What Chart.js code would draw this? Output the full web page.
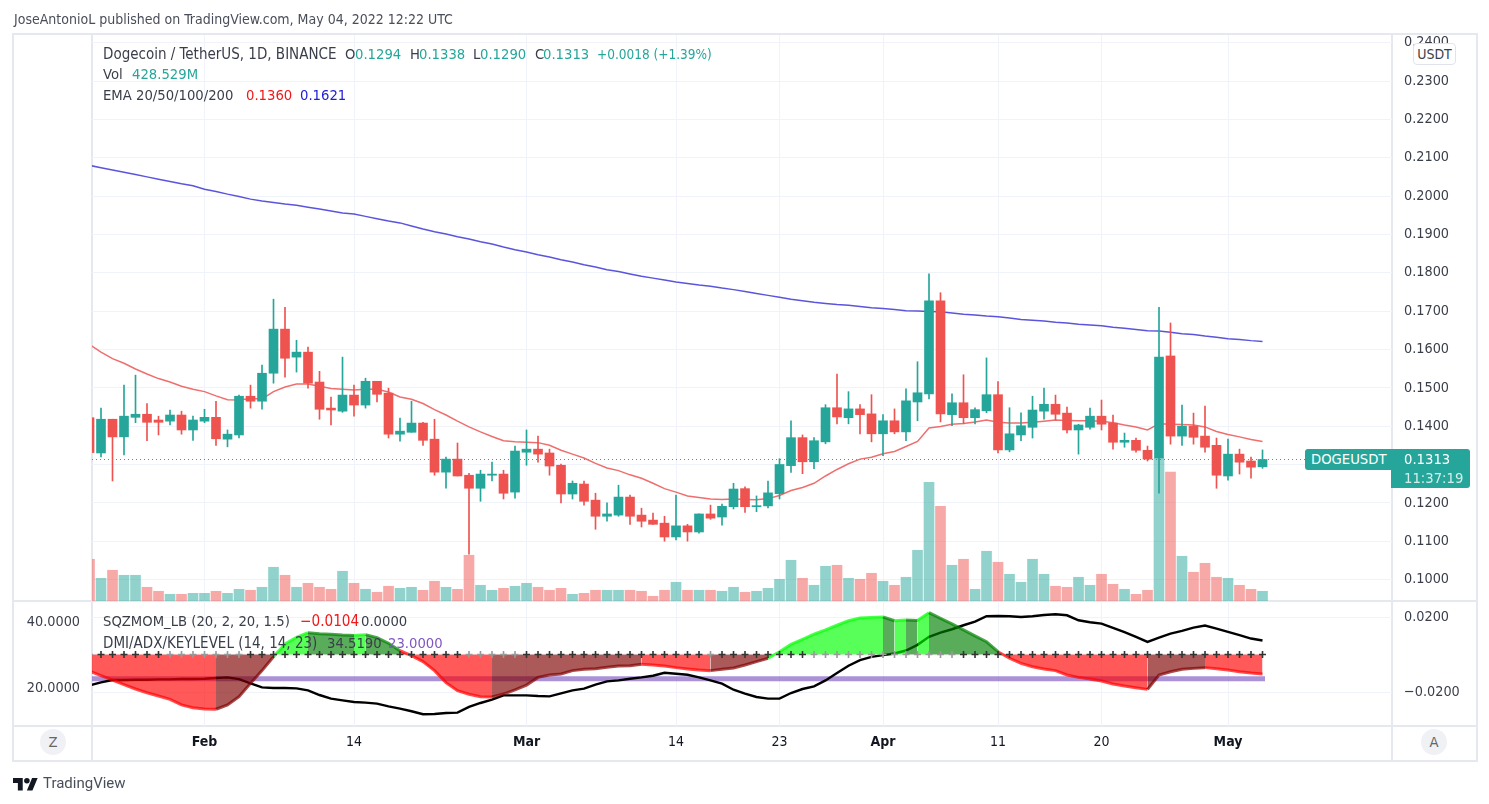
<!DOCTYPE html>
<html>
<head>
<meta charset="utf-8">
<title>DOGEUSDT</title>
<script src="https://cdn.jsdelivr.net/npm/chart.js@4"></script>
<style>
  html, body { margin: 0; padding: 0; background: #fff; width: 1489px; height: 804px; overflow: hidden; }
  body { position: relative; font-family: "DejaVu Sans Condensed", "DejaVu Sans", sans-serif; font-size: 14.7px; color: #3a3e4a; }
  canvas { position: absolute; left: 0; top: 0; }
  .line { position: absolute; background: #e6e8ef; }
  .t { position: absolute; white-space: nowrap; line-height: 16px; z-index: 4; }
</style>
</head>
<body>
<div class="line" style="left:12px;top:33px;width:1466px;height:2px"></div>
<div class="line" style="left:12px;top:760px;width:1466px;height:2px"></div>
<div class="line" style="left:12px;top:33px;width:2px;height:729px"></div>
<div class="line" style="left:1476px;top:33px;width:2px;height:729px"></div>
<div class="line" style="left:91px;top:35px;width:2px;height:725px"></div>
<div class="line" style="left:1391px;top:35px;width:2px;height:725px"></div>
<div class="line" style="left:12px;top:600px;width:1466px;height:2px"></div>
<div class="line" style="left:12px;top:725px;width:1466px;height:2px"></div>
<canvas id="main" width="1489" height="804"></canvas>
<canvas id="lower" width="1489" height="804"></canvas>
<div id="labels"></div>
<div style="position:absolute;left:1413px;top:43px;width:41px;height:20px;background:#fff;border:1px solid #e0e3eb;border-radius:4px;text-align:center;line-height:20px;font-size:14px;z-index:3">USDT</div>
<div style="position:absolute;left:1305px;top:449px;width:87px;height:21px;background:#26a69a;border-radius:3px 0 0 3px;z-index:3"></div>
<div style="position:absolute;left:1391px;top:449px;width:79px;height:39px;background:#26a69a;border-radius:0 3px 3px 0;z-index:3"></div>
<div style="position:absolute;left:40px;top:729px;width:26px;height:26px;border-radius:13px;background:#f0f1f5;color:#666;text-align:center;line-height:26px;z-index:3">Z</div>
<div style="position:absolute;left:1421px;top:729px;width:26px;height:26px;border-radius:13px;background:#f0f1f5;color:#666;text-align:center;line-height:26px;z-index:3">A</div>
<svg style="position:absolute;left:13px;top:775px" width="25" height="20" viewBox="0 0 36 28"><path fill="#131722" d="M14 22H7V11H0V4h14v18zM28 22h-8l7.5-18h8L28 22z"/><circle fill="#131722" cx="20" cy="8" r="4"/></svg>
<script>
// prices, one entry per daily candle starting 22 Jan
const opens = [.1422,.1330,.1418,.1372,.1423,.1431,.1416,.1413,.1429,.1390,.1413,.1423,.1366,.1377,.1478,.1465,.1538,.1653,.1580,.1593,.1515,.1447,.1439,.1481,.1455,.1517,.1486,.1379,.1384,.1408,.1366,.1280,.1314,.1272,.1238,.1272,.1275,.1228,.1332,.1340,.1330,.1298,.1223,.1249,.1207,.1165,.1168,.1215,.1168,.1155,.1147,.1111,.1140,.1124,.1171,.1163,.1190,.1237,.1190,.1192,.1224,.1297,.1370,.1307,.1359,.1448,.1422,.1445,.1432,.1380,.1414,.1385,.1463,.1484,.1727,.1430,.1461,.1422,.1440,.1482,.1338,.1377,.1397,.1439,.1457,.1434,.1390,.1397,.1426,.1408,.1358,.1363,.1337,.1317,.1583,.1374,.1400,.1374,.1350,.1270,.1327,.1309,.1294];
const highs = [.1440,.1447,.1418,.1507,.1533,.1459,.1426,.1442,.1439,.1426,.1444,.1465,.1390,.1481,.1507,.1559,.1731,.1710,.1624,.1606,.1543,.1476,.1580,.1507,.1525,.1517,.1499,.1421,.1465,.1410,.1418,.1319,.1356,.1277,.1285,.1306,.1285,.1348,.1390,.1374,.1340,.1301,.1257,.1257,.1225,.1200,.1246,.1220,.1186,.1173,.1165,.1220,.1144,.1171,.1194,.1197,.1251,.1242,.1218,.1257,.1315,.1414,.1377,.1370,.1456,.1536,.1490,.1456,.1482,.1430,.1445,.1497,.1568,.1797,.1748,.1484,.1534,.1448,.1578,.1516,.1448,.1435,.1478,.1499,.1481,.1450,.1405,.1447,.1468,.1429,.1382,.1369,.1348,.1710,.1669,.1455,.1434,.1452,.1369,.1366,.1340,.1319,.1338];
const lows = [.1331,.1320,.1257,.1325,.1409,.1362,.1377,.1403,.1379,.1363,.1409,.1350,.1346,.1369,.1447,.1444,.1512,.1528,.1541,.1499,.1418,.1403,.1436,.1426,.1447,.1463,.1369,.1361,.1384,.1350,.1272,.1238,.1270,.1066,.1204,.1257,.1210,.1212,.1298,.1306,.1272,.1200,.1210,.1194,.1131,.1152,.1165,.1144,.1137,.1144,.1100,.1103,.1100,.1121,.1157,.1142,.1184,.1175,.1177,.1187,.1210,.1279,.1276,.1289,.1354,.1406,.1406,.1380,.1359,.1323,.1380,.1362,.1414,.1471,.1411,.1401,.1406,.1406,.1435,.1330,.1333,.1362,.1369,.1418,.1416,.1382,.1327,.1392,.1390,.1340,.1345,.1332,.1309,.1225,.1353,.1350,.1353,.1332,.1238,.1259,.1275,.1264,.1290];
const closes = [.1331,.1418,.1372,.1426,.1431,.1410,.1410,.1429,.1390,.1416,.1423,.1367,.1379,.1478,.1465,.1538,.1653,.1577,.1593,.1512,.1444,.1442,.1481,.1455,.1517,.1483,.1379,.1387,.1408,.1363,.1280,.1314,.1270,.1238,.1275,.1275,.1225,.1335,.1340,.1327,.1296,.1223,.1251,.1204,.1165,.1171,.1215,.1165,.1152,.1144,.1111,.1140,.1124,.1171,.1160,.1191,.1236,.1190,.1192,.1226,.1300,.1370,.1307,.1362,.1448,.1424,.1445,.1430,.1380,.1414,.1385,.1466,.1487,.1727,.1432,.1461,.1422,.1443,.1482,.1338,.1380,.1401,.1442,.1457,.1431,.1390,.1403,.1426,.1405,.1358,.1363,.1337,.1314,.1580,.1374,.1400,.1371,.1345,.1272,.1327,.1306,.1293,.1313];
const volumes = [1843,1003,1357,1136,1136,606,429,296,296,340,340,429,340,517,473,606,1490,1136,606,782,606,517,1313,782,517,385,650,561,606,473,871,606,517,2020,694,473,561,650,782,606,473,561,296,340,473,473,473,473,429,208,473,827,473,473,473,429,606,385,429,561,959,1799,1003,694,1534,1578,1003,959,1224,871,694,1048,2241,5247,4186,1578,1843,517,2197,1711,1180,827,1843,1180,650,606,1048,694,1180,738,517,296,473,6307,5689,1976,1269,1666,1048,1003,694,517,429];
const ema20 = [.1613,.1593,.1576,.1564,.1549,.1536,.1524,.1515,.1504,.1496,.1490,.1479,.1469,.1468,.1472,.1471,.1490,.1502,.1510,.1510,.1504,.1498,.1496,.1494,.1496,.1496,.1489,.1476,.1470,.1459,.1443,.1429,.1413,.1398,.1385,.1373,.1362,.1359,.1358,.1357,.1350,.1337,.1327,.1317,.1303,.1291,.1284,.1273,.1264,.1251,.1237,.1228,.1218,.1214,.1210,.1209,.1210,.1209,.1208,.1211,.1219,.1232,.1240,.1251,.1270,.1287,.1302,.1314,.1319,.1328,.1334,.1347,.1360,.1395,.1399,.1405,.1407,.1411,.1416,.1410,.1408,.1408,.1410,.1413,.1416,.1415,.1414,.1414,.1413,.1409,.1403,.1398,.1390,.1406,.1405,.1404,.1403,.1398,.1386,.1378,.1372,.1365,.1360];
const ema200 = [.2080,.2074,.2068,.2062,.2056,.2050,.2044,.2038,.2032,.2027,.2018,.2012,.2005,.1999,.1992,.1987,.1983,.1979,.1976,.1971,.1966,.1961,.1956,.1953,.1947,.1941,.1935,.1930,.1922,.1914,.1907,.1901,.1894,.1888,.1881,.1875,.1867,.1860,.1854,.1847,.1841,.1834,.1828,.1821,.1815,.1808,.1803,.1797,.1791,.1786,.1781,.1776,.1772,.1768,.1765,.1760,.1756,.1751,.1746,.1741,.1736,.1731,.1727,.1723,.1720,.1717,.1715,.1712,.1709,.1707,.1704,.1701,.1700,.1699,.1698,.1695,.1692,.1690,.1687,.1685,.1682,.1678,.1676,.1674,.1671,.1669,.1666,.1664,.1662,.1658,.1655,.1652,.1649,.1648,.1645,.1641,.1639,.1635,.1632,.1628,.1626,.1623,.1621];
const momentum = [-.0088,-.0113,-.0136,-.0161,-.0184,-.0204,-.0221,-.0239,-.0269,-.0284,-.0291,-.0292,-.0269,-.0225,-.0154,-.0086,-.0012,.0056,.0092,.0116,.0111,.0108,.0104,.0102,.0106,.0090,.0060,.0020,-.0006,-.0038,-.0086,-.0150,-.0193,-.0212,-.0225,-.0227,-.0211,-.0189,-.0163,-.0122,-.0109,-.0104,-.0086,-.0079,-.0076,-.0068,-.0061,-.0060,-.0052,-.0056,-.0061,-.0070,-.0077,-.0083,-.0086,-.0079,-.0072,-.0056,-.0038,-.0020,.0015,.0054,.0081,.0108,.0131,.0156,.0180,.0195,.0198,.0200,.0180,.0184,.0182,.0223,.0193,.0163,.0131,.0099,.0068,.0015,-.0020,-.0047,-.0065,-.0077,-.0086,-.0109,-.0122,-.0131,-.0141,-.0157,-.0168,-.0177,-.0186,-.0109,-.0092,-.0079,-.0074,-.0070,-.0076,-.0083,-.0092,-.0099,-.0104];
const adx = [21.0,21.9,22.6,22.6,22.7,22.7,22.8,22.8,22.9,22.9,23.0,23.2,23.4,22.9,21.6,20.4,20.2,20.2,20.1,19.5,18.1,17.0,16.5,16.0,15.8,15.5,14.7,14.0,13.2,12.3,12.4,12.7,12.8,14.5,15.7,16.7,18.0,18.0,18.0,17.8,17.7,18.6,19.5,20.0,21.2,22.2,22.5,23.0,23.4,23.9,24.8,24.5,24.2,23.4,22.5,21.5,19.7,18.5,17.5,17.0,17.0,18.7,19.9,20.7,22.5,24.7,26.9,28.6,29.6,30.1,30.6,31.5,33.2,35.6,36.9,37.9,39.1,40.2,41.8,41.9,41.8,41.6,41.8,42.2,42.4,42.1,40.6,40.0,39.6,38.3,37.0,35.6,34.1,35.4,36.6,37.4,38.4,39.0,38.1,37.1,36.1,35.1,34.5];
const keyLevel = 23;
// candles where the squeeze dots are gray instead of dark
const squeezeOff = [0,7,8,9,10,11,12,13,33,34,35,36,37,54,63,64,65,66,67,68,69,70,71,72,73,74,75];

const priceTicks = [.10,.11,.12,.13,.14,.15,.16,.17,.18,.19,.20,.21,.22,.23,.24];
const momTicks = [.02,-.02];
const adxTicks = [40,20];
const dateTickIdx = [10,23,38,51,60,69,79,88,99];
const dateTickLabels = ['Feb','14','Mar','14','23','Apr','11','20','May'];

const UP = '#26a69a', DOWN = '#ef5350';
const GRID = '#f0f3fa';
const TEXT = '#3a3e4a';
const FONT = '"DejaVu Sans Condensed", "DejaVu Sans", sans-serif';
const TICK_SIZE = 14.3;
const xMin = 0.217, xMax = 113.26;

const idx = opens.map((_, i) => i);
const isUp = i => closes[i] >= opens[i];
const series = arr => arr.map((y, i) => ({ x: i, y: y }));

const xScale = (labels) => ({
  type: 'linear', min: xMin, max: xMax, offset: false,
  afterBuildTicks: s => { s.ticks = dateTickIdx.map(v => ({ value: v })); },
  afterFit: s => { s.height = labels ? 34 : 0; },
  grid: { color: GRID, drawTicks: false, offset: false },
  border: { display: false },
  ticks: {
    display: labels, autoSkip: false, maxRotation: 0, padding: 8, color: '#131722',
    callback: (v) => dateTickLabels[dateTickIdx.indexOf(v)],
    font: ctx => ({ family: FONT, size: 14, weight: isNaN(dateTickLabels[ctx.index]) ? '700' : '400' })
  }
});

const priceLabel = v => v.toFixed(4).replace('-', '\u2212');

new Chart(document.getElementById('main'), {
  data: {
    datasets: [
      { type: 'bar', yAxisID: 'vol', order: 9, grouped: false, barThickness: 10,
        data: volumes.map((v, i) => ({ x: i, y: v })),
        backgroundColor: idx.map(i => isUp(i) ? 'rgba(38,166,154,.5)' : 'rgba(239,83,80,.5)') },
      { type: 'line', yAxisID: 'y', order: 8, data: [{ x: xMin, y: closes[closes.length - 1] }, { x: xMax, y: closes[closes.length - 1] }],
        borderColor: UP, borderWidth: 1, borderDash: [1, 3], pointRadius: 0 },
      { type: 'line', yAxisID: 'y', order: 7, data: series(ema200), borderColor: '#5a55dc', borderWidth: 1.5, pointRadius: 0, tension: 0 },
      { type: 'line', yAxisID: 'y', order: 6, data: series(ema20), borderColor: '#ee6f6d', borderWidth: 1.5, pointRadius: 0, tension: 0 },
      { type: 'bar', yAxisID: 'y', order: 2, grouped: false, barThickness: 1,
        data: idx.map(i => ({ x: i, y: [lows[i], highs[i]] })),
        backgroundColor: idx.map(i => isUp(i) ? UP : DOWN) },
      { type: 'bar', yAxisID: 'y', order: 1, grouped: false, barThickness: 9, minBarLength: 1,
        data: idx.map(i => ({ x: i, y: [opens[i], closes[i]] })),
        backgroundColor: idx.map(i => isUp(i) ? UP : DOWN) }
    ]
  },
  options: {
    responsive: false, animation: false, devicePixelRatio: 1, events: [],
    layout: { padding: { left: 92, top: 35, right: 12, bottom: 203 } },
    plugins: { legend: { display: false }, tooltip: { enabled: false } },
    scales: {
      x: xScale(false),
      y: {
        position: 'right', min: .0944, max: .2420,
        afterBuildTicks: s => { s.ticks = priceTicks.map(v => ({ value: v })); },
        afterFit: s => { s.width = 85; },
        grid: { color: GRID, drawTicks: false }, border: { display: false },
        ticks: { autoSkip: false, padding: 12, color: TEXT, font: { family: FONT, size: TICK_SIZE }, callback: priceLabel }
      },
      vol: { display: false, min: 0, max: 25000 }
    }
  }
});

// squeeze momentum colours: same rule the indicator uses
function momColor(i, alpha) {
  const v = momentum[i], prev = momentum[i - 1];
  const c = v > 0 ? (v > prev ? '0,255,0' : '0,128,0') : (v < prev ? '255,0,0' : '128,0,0');
  return 'rgba(' + c + ',' + alpha + ')';
}

new Chart(document.getElementById('lower'), {
  data: {
    datasets: [
      { type: 'line', yAxisID: 'adx', order: 4, data: idx.map(i => ({ x: i, y: keyLevel })),
        borderColor: 'rgba(126,87,194,.65)', borderWidth: 5, borderCapStyle: 'square', pointRadius: 0 },
      { type: 'line', yAxisID: 'adx', order: 3, data: series(adx), borderColor: '#000', borderWidth: 2.4, pointRadius: 0 },
      { type: 'line', yAxisID: 'mom', order: 2, data: series(momentum), pointRadius: 0, borderWidth: 3,
        borderColor: 'rgba(255,0,0,.7)', backgroundColor: 'rgba(255,0,0,.65)', fill: { value: 0 },
        segment: {
          borderColor: c => momColor(c.p1DataIndex, .7),
          backgroundColor: c => momColor(c.p1DataIndex, .65)
        } },
      { type: 'line', yAxisID: 'mom', order: 1, showLine: false, data: idx.map(i => ({ x: i, y: 0 })),
        pointStyle: 'cross', pointRadius: 3.5, pointBorderWidth: 1.6,
        pointBorderColor: idx.map(i => squeezeOff.includes(i) ? '#9a9a9a' : '#333') }
    ]
  },
  options: {
    responsive: false, animation: false, devicePixelRatio: 1, events: [],
    layout: { padding: { left: 12, top: 602, right: 12, bottom: 44 } },
    plugins: { legend: { display: false }, tooltip: { enabled: false } },
    scales: {
      x: xScale(true),
      mom: {
        position: 'right', min: -.03813, max: .028,
        afterBuildTicks: s => { s.ticks = momTicks.map(v => ({ value: v })); },
        afterFit: s => { s.width = 85; },
        grid: { color: GRID, drawTicks: false }, border: { display: false },
        ticks: { autoSkip: false, padding: 12, color: TEXT, font: { family: FONT, size: TICK_SIZE }, callback: priceLabel }
      },
      adx: {
        position: 'left', min: 8.77, max: 46.1,
        afterBuildTicks: s => { s.ticks = adxTicks.map(v => ({ value: v })); },
        afterFit: s => { s.width = 80; },
        grid: { display: false, drawTicks: false }, border: { display: false },
        ticks: { autoSkip: false, padding: 12, color: TEXT, font: { family: FONT, size: TICK_SIZE }, callback: priceLabel }
      }
    }
  }
});

// header and legend text, x / y are the left edge and vertical middle, size is optional
const GREEN = '#26a69a';
const texts = [
  ['JoseAntonioL published on TradingView.com, May 04, 2022 12:22 UTC', 14, 19, '#4a4e5a', 14],
  ['Dogecoin / TetherUS, 1D, BINANCE', 103, 54, TEXT, 15],
  ['O', 345, 54, TEXT], ['0.1294', 355, 54, GREEN],
  ['H', 410, 54, TEXT], ['0.1338', 419, 54, GREEN],
  ['L', 473, 54, TEXT], ['0.1290', 480, 54, GREEN],
  ['C', 535, 54, TEXT], ['0.1313', 543, 54, GREEN],
  ['+0.0018 (+1.39%)', 597, 54, GREEN, 13.5],
  ['Vol', 103, 74, TEXT], ['428.529M', 132, 74, GREEN],
  ['EMA 20/50/100/200', 103, 95, TEXT], ['0.1360', 246, 95, '#f01818'], ['0.1621', 300, 95, '#2020d8'],
  ['SQZMOM_LB (20, 2, 20, 1.5)', 103, 621, TEXT],
  ['\u22120.0104', 300, 621, '#f01818', 15.2], ['0.0000', 361, 621, TEXT],
  ['DMI/ADX/KEYLEVEL (14, 14, 23)', 103, 643, TEXT, 15],
  ['34.5190', 327, 643, TEXT], ['23.0000', 388, 643, '#7e57c2'],
  ['DOGEUSDT', 1311, 459, '#fff'], ['0.1313', 1404, 459, '#fff'], ['11:37:19', 1404, 478, '#d4eeeb']
];
const box = document.getElementById('labels');
texts.forEach(([s, x, y, color, size]) => {
  const el = document.createElement('div');
  el.className = 't';
  el.textContent = s;
  el.style.left = x + 'px';
  el.style.top = (y - 8) + 'px';
  el.style.color = color;
  if (size) el.style.fontSize = size + 'px';
  box.appendChild(el);
});
const brand = document.createElement('div');
brand.className = 't';
brand.textContent = 'TradingView';
brand.style.cssText = 'left:43px;top:775px;font:15px Roboto,sans-serif;line-height:16px;color:#4a4e5a';
box.appendChild(brand);
</script>
</body>
</html>
